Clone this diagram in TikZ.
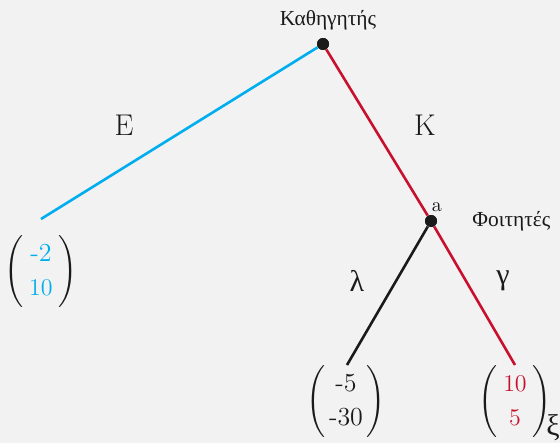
\documentclass[tikz,border=0pt]{standalone}
\usepackage{amsmath}
\usepackage{fontspec}
\newfontfamily\grfont{Liberation Serif}
\usetikzlibrary{calc, positioning}
\definecolor{TreeBlue}{HTML}{00AEEF}
\definecolor{TreeRed}{HTML}{C8102E}
\definecolor{TreeDark}{HTML}{1A1A1A}
\definecolor{TreeBack}{HTML}{F2F2F2}

\begin{document}
\begin{tikzpicture}[
    x=0.5pt, y=-0.5pt,
    % Tree Element Styles
    decision/.style={circle, fill=TreeDark, inner sep=0pt, minimum size=6pt},
    branch/.style={line width=1.3pt},
    player/.style={font=\fontsize{10.7}{12}\selectfont\grfont, text=TreeDark, inner sep=0pt},
    move/.style={font=\fontsize{15}{18}\selectfont, text=TreeDark},
    payoff/.style={font=\fontsize{13}{15}\selectfont\renewcommand{\arraystretch}{1.12}\setlength{\arraycolsep}{3pt}, inner sep=0pt, text=TreeDark}
]
    % background and margins
    \fill[TreeBack] (0,0) rectangle (560,443);
    \useasboundingbox (0,0) rectangle (560,443);

    % ==========================================
    % Decision nodes
    % ==========================================
    \node[decision] (root) at (323,44) {};
    \node[decision] (a) at (431,221) {};
    \node[player] (rootname) at (328,20) {Καθηγητής};
    \node[player, font=\fontsize{10}{12}\selectfont, above right=2pt and -2pt of a] (aname) {a};
    \node[player, anchor=west] (aplayer) at (472,221) {Φοιτητές};

    % ==========================================
    % Leaves
    % ==========================================
    \coordinate (leafE) at (41,219);
    \coordinate (leafL) at (347,365);
    \coordinate (leafG) at (515,365);

    \draw[branch, TreeBlue] (root) -- (leafE);
    \draw[branch, TreeRed] (root) -- (a);
    \draw[branch, TreeRed] (a) -- (leafG);
    \draw[branch, TreeDark] (a) -- (leafL);
    \node[decision] at (root) {};
    \node[decision] at (a) {};

    % Move labels
    \node[move] (moveE) at (124,125) {E};
    \node[move] (moveK) at (425,125) {K};
    \node[move, font=\fontsize{15}{18}\selectfont\grfont] (moveL) at (357,281) {λ};
    \node[move, font=\fontsize{15}{18}\selectfont\grfont] (moveG) at (503,281) {γ};

    % Payoff vectors
    \node[payoff] (payE) at (41,272)
        {$\left(\begin{array}{c}\textcolor{TreeBlue}{\text{-2}}\\ \textcolor{TreeBlue}{10}\end{array}\right)$};
    \node[payoff] (payL) at (346,402)
        {$\left(\begin{array}{@{\,}c@{\,}}\text{-5}\\ \text{-30}\end{array}\right)$};
    \node[payoff] (payG) at (515,402)
        {$\left(\begin{array}{c}\textcolor{TreeRed}{10}\\ \textcolor{TreeRed}{5}\end{array}\right)$};
    \node[move, font=\fontsize{15}{18}\selectfont\grfont, anchor=west, inner sep=0pt] (xi) at (546,428) {ξ};
\end{tikzpicture}
\end{document}
